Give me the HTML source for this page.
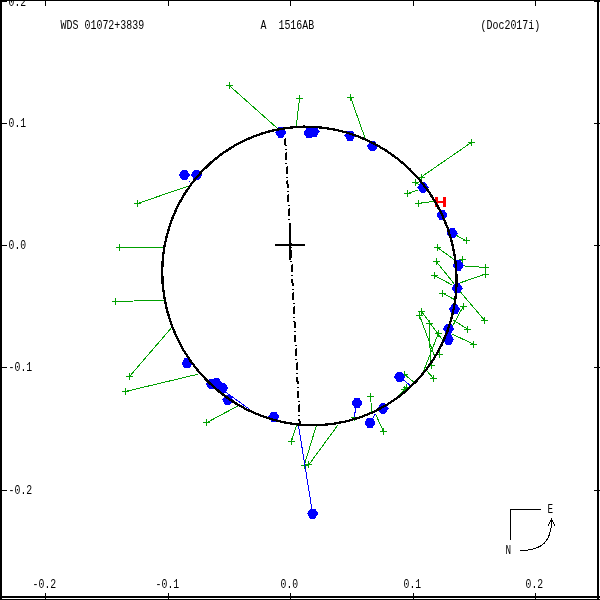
<!DOCTYPE html><html><head><meta charset="utf-8"><title>WDS 01072+3839</title>
<style>html,body{margin:0;padding:0;background:#fff}svg{display:block}text{white-space:pre;font-family:"Liberation Mono",monospace;font-size:13.5px;fill:#000}</style></head><body>
<svg shape-rendering="crispEdges" width="600" height="600" viewBox="0 0 600 600">
<rect width="600" height="600" fill="#fff"/>
<g fill="#000"><rect x="0" y="0" width="2" height="600"/><rect x="0" y="0" width="600" height="1"/><rect x="597" y="0" width="2" height="600"/><rect x="0" y="596" width="600" height="2"/><rect x="0" y="599" width="600" height="1"/></g>
<g fill="#000"><rect x="45" y="0" width="1" height="6"/><rect x="45" y="593" width="1" height="7"/><rect x="168" y="0" width="1" height="6"/><rect x="168" y="593" width="1" height="7"/><rect x="290" y="0" width="1" height="6"/><rect x="290" y="593" width="1" height="7"/><rect x="413" y="0" width="1" height="6"/><rect x="413" y="593" width="1" height="7"/><rect x="535" y="0" width="1" height="6"/><rect x="535" y="593" width="1" height="7"/><rect x="0" y="1" width="7" height="1"/><rect x="594" y="1" width="6" height="1"/><rect x="0" y="123" width="7" height="1"/><rect x="594" y="123" width="6" height="1"/><rect x="0" y="245" width="7" height="1"/><rect x="594" y="245" width="6" height="1"/><rect x="0" y="367" width="7" height="1"/><rect x="594" y="367" width="6" height="1"/><rect x="0" y="490" width="7" height="1"/><rect x="594" y="490" width="6" height="1"/></g>
<path d="M226.0 85.5H233.0M229.5 82.0V89.0M229.2 85.5L277.0 128.0M296.0 98.5H303.0M299.5 95.0V102.0M299.5 98.5L296.3 126.0M347.0 97.5H354.0M350.5 94.0V101.0M350.6 97.3L364.8 137.5M134.0 203.5H141.0M137.5 200.0V207.0M137.5 203.5L190.3 185.5M468.0 142.5H475.0M471.5 139.0V146.0M471.4 142.4L421.0 177.2M418.0 177.5H425.0M421.5 174.0V181.0M412.0 182.5H419.0M415.5 179.0V186.0M415.5 182.5L421.0 186.0M404.0 193.5H411.0M407.5 190.0V197.0M407.5 193.5L418.0 190.0M415.0 203.5H422.0M418.5 200.0V207.0M418.4 203.4L433.5 201.4M463.0 240.5H470.0M466.5 237.0V244.0M466.6 240.8L452.2 233.3M434.0 247.5H441.0M437.5 244.0V251.0M437.7 247.6L454.8 260.2M459.0 259.5H466.0M462.5 256.0V263.0M462.0 259.0L458.3 265.5M482.0 267.5H489.0M485.5 264.0V271.0M485.8 267.5L458.3 265.5M433.0 261.5H440.0M436.5 258.0V265.0M436.4 261.7L454.0 283.6M482.0 274.5H489.0M485.5 271.0V278.0M485.0 274.2L458.0 283.6M431.0 275.5H438.0M434.5 272.0V279.0M434.5 275.5L452.5 285.2M439.0 293.5H446.0M442.5 290.0V297.0M442.5 293.3L454.5 299.5M481.0 320.5H488.0M484.5 317.0V324.0M484.7 320.5L457.3 288.3M460.0 306.5H467.0M463.5 303.0V310.0M463.4 306.1L451.8 327.5M464.0 329.5H471.0M467.5 326.0V333.0M467.6 329.2L452.5 319.6M470.0 344.5H477.0M473.5 341.0V348.0M473.7 344.3L451.6 333.8M418.0 311.5H425.0M421.5 308.0V315.0M421.5 311.5L442.5 340.0M416.0 315.5H423.0M419.5 312.0V319.0M419.5 315.5L434.5 355.8M426.0 323.5H433.0M429.5 320.0V327.0M429.5 323.5L430.3 362.0M435.0 333.5H442.0M438.5 330.0V337.0M438.5 333.0L422.5 374.0M436.0 354.5H443.0M439.5 351.0V358.0M439.5 354.6L434.5 355.6M428.0 365.5H435.0M431.5 362.0V369.0M431.5 365.0L430.0 364.0M430.0 378.5H437.0M433.5 375.0V382.0M433.5 378.5L427.0 371.0M401.0 374.5H408.0M404.5 371.0V378.0M404.0 374.0L414.0 382.3M401.0 389.5H408.0M404.5 386.0V393.0M404.5 389.5L397.0 398.0M403.0 387.5H410.0M406.5 384.0V391.0M406.5 387.0L399.5 395.5M367.0 396.5H374.0M370.5 393.0V400.0M370.5 396.2L371.8 412.0M380.0 431.5H387.0M383.5 428.0V435.0M383.5 431.5L375.5 414.0M351.0 417.5H358.0M354.5 414.0V421.0M288.0 441.5H295.0M291.5 438.0V445.0M291.4 441.5L296.6 425.2M301.0 465.5H308.0M304.5 462.0V469.0M304.2 465.4L316.2 426.0M305.0 464.5H312.0M308.5 461.0V468.0M308.9 464.6L337.8 425.2M126.0 376.5H133.0M129.5 373.0V380.0M129.5 376.5L171.5 327.7M122.0 391.5H129.0M125.5 388.0V395.0M125.5 391.5L198.4 374.1M203.0 422.5H210.0M206.5 419.0V426.0M206.5 422.7L238.7 405.5M116.0 247.5H123.0M119.5 244.0V251.0M119.5 247.5L163.5 247.5M112.0 301.5H119.0M115.5 298.0V305.0M115.2 301.5L164.0 300.2" stroke="#00a000" stroke-width="1" fill="none"/>
<path d="M399.5 376.7L410.0 385.3M357.0 403.0L354.0 417.3M370.0 422.8L375.3 414.0M298.4 425.0L312.6 513.6M224.0 391.0L248.7 408.7M189.7 181.3L189.9 181.5" stroke="#0000ff" stroke-width="1" fill="none"/>
<g fill="#0000ff"><polygon points="178.8,174.9 182.0,169.8 186.8,169.8 190.0,174.9 186.8,180.0 182.0,180.0"/><polygon points="191.0,174.9 194.2,169.8 199.0,169.8 202.2,174.9 199.0,180.0 194.2,180.0"/><polygon points="275.1,132.5 278.4,127.4 283.1,127.4 286.4,132.5 283.1,137.6 278.4,137.6"/><polygon points="303.4,133.0 306.6,127.9 311.4,127.9 314.6,133.0 311.4,138.1 306.6,138.1"/><polygon points="308.4,131.6 311.6,126.5 316.4,126.5 319.6,131.6 316.4,136.7 311.6,136.7"/><polygon points="344.4,135.6 347.6,130.5 352.4,130.5 355.6,135.6 352.4,140.7 347.6,140.7"/><polygon points="366.9,146.2 370.1,141.2 374.9,141.2 378.1,146.2 374.9,151.3 370.1,151.3"/><polygon points="417.4,187.5 420.6,182.4 425.4,182.4 428.6,187.5 425.4,192.6 420.6,192.6"/><polygon points="436.4,215.0 439.6,209.9 444.4,209.9 447.6,215.0 444.4,220.1 439.6,220.1"/><polygon points="446.6,233.3 449.8,228.2 454.6,228.2 457.8,233.3 454.6,238.4 449.8,238.4"/><polygon points="452.6,265.5 455.9,260.4 460.6,260.4 463.9,265.5 460.6,270.6 455.9,270.6"/><polygon points="451.6,288.3 454.8,283.2 459.6,283.2 462.8,288.3 459.6,293.4 454.8,293.4"/><polygon points="449.0,309.3 452.2,304.2 457.0,304.2 460.2,309.3 457.0,314.4 452.2,314.4"/><polygon points="443.0,328.8 446.2,323.7 451.0,323.7 454.2,328.8 451.0,333.9 446.2,333.9"/><polygon points="442.9,339.5 446.1,334.4 450.9,334.4 454.1,339.5 450.9,344.6 446.1,344.6"/><polygon points="393.9,376.7 397.1,371.6 401.9,371.6 405.1,376.7 401.9,381.8 397.1,381.8"/><polygon points="351.4,403.0 354.6,397.9 359.4,397.9 362.6,403.0 359.4,408.1 354.6,408.1"/><polygon points="377.4,408.5 380.6,403.4 385.4,403.4 388.6,408.5 385.4,413.6 380.6,413.6"/><polygon points="364.4,422.8 367.6,417.7 372.4,417.7 375.6,422.8 372.4,427.9 367.6,427.9"/><polygon points="268.2,416.8 271.4,411.7 276.2,411.7 279.4,416.8 276.2,421.9 271.4,421.9"/><polygon points="307.0,513.6 310.2,508.5 315.0,508.5 318.2,513.6 315.0,518.7 310.2,518.7"/><polygon points="181.4,363.3 184.6,358.2 189.4,358.2 192.6,363.3 189.4,368.4 184.6,368.4"/><polygon points="205.9,384.0 209.1,378.9 213.9,378.9 217.1,384.0 213.9,389.1 209.1,389.1"/><polygon points="211.1,383.4 214.3,378.3 219.1,378.3 222.3,383.4 219.1,388.5 214.3,388.5"/><polygon points="216.9,388.0 220.1,382.9 224.9,382.9 228.1,388.0 224.9,393.1 220.1,393.1"/><polygon points="222.1,399.8 225.3,394.7 230.1,394.7 233.3,399.8 230.1,404.9 225.3,404.9"/></g>
<g fill="#ff0000"><rect x="435" y="197" width="3" height="10"/><rect x="443" y="197" width="3" height="10"/><rect x="435" y="201" width="11" height="2"/></g>
<ellipse cx="309.40" cy="276.00" rx="150.30" ry="146.10" transform="rotate(59.85 309.40 276.00)" fill="none" stroke="#000" stroke-width="2.3"/>
<rect x="303" y="125" width="2" height="1" fill="#000"/>
<path d="M285.20 138.50L299.70 424.50" stroke="#000" stroke-width="2" stroke-dasharray="7.5 2.75 1 2.77" fill="none"/>
<g fill="#000"><rect x="275" y="244" width="30" height="2"/><rect x="289" y="230" width="2" height="30"/></g>
<g fill="#000"><rect x="510" y="509" width="31" height="1"/><rect x="510" y="509" width="1" height="31"/></g>
<path d="M520 550.5C542.5 550.5 551.5 541.5 551.5 520M548.3 525.6L551.5 519.3L554.7 525.6" stroke="#000" stroke-width="1" fill="none"/>
<text x="60.6" y="29.0" textLength="83.6" lengthAdjust="spacingAndGlyphs">WDS 01072+3839</text>
<text x="260.6" y="29.0" textLength="53.6" lengthAdjust="spacingAndGlyphs">A  1516AB</text>
<text x="480.6" y="29.0" textLength="59.6" lengthAdjust="spacingAndGlyphs">(Doc2017i)</text>
<text x="547.6" y="513.0" textLength="5.6" lengthAdjust="spacingAndGlyphs">E</text>
<text x="505.6" y="554.0" textLength="5.6" lengthAdjust="spacingAndGlyphs">N</text>
<text x="32.6" y="588.0" textLength="23.6" lengthAdjust="spacingAndGlyphs">-0.2</text>
<text x="155.6" y="588.0" textLength="23.6" lengthAdjust="spacingAndGlyphs">-0.1</text>
<text x="280.6" y="588.0" textLength="17.6" lengthAdjust="spacingAndGlyphs">0.0</text>
<text x="403.6" y="588.0" textLength="17.6" lengthAdjust="spacingAndGlyphs">0.1</text>
<text x="525.6" y="588.0" textLength="17.6" lengthAdjust="spacingAndGlyphs">0.2</text>
<text x="8.6" y="6.0" textLength="17.6" lengthAdjust="spacingAndGlyphs">0.2</text>
<text x="8.6" y="127.0" textLength="17.6" lengthAdjust="spacingAndGlyphs">0.1</text>
<text x="8.6" y="249.0" textLength="17.6" lengthAdjust="spacingAndGlyphs">0.0</text>
<text x="8.6" y="371.0" textLength="23.6" lengthAdjust="spacingAndGlyphs">-0.1</text>
<text x="8.6" y="494.0" textLength="23.6" lengthAdjust="spacingAndGlyphs">-0.2</text>
</svg></body></html>
